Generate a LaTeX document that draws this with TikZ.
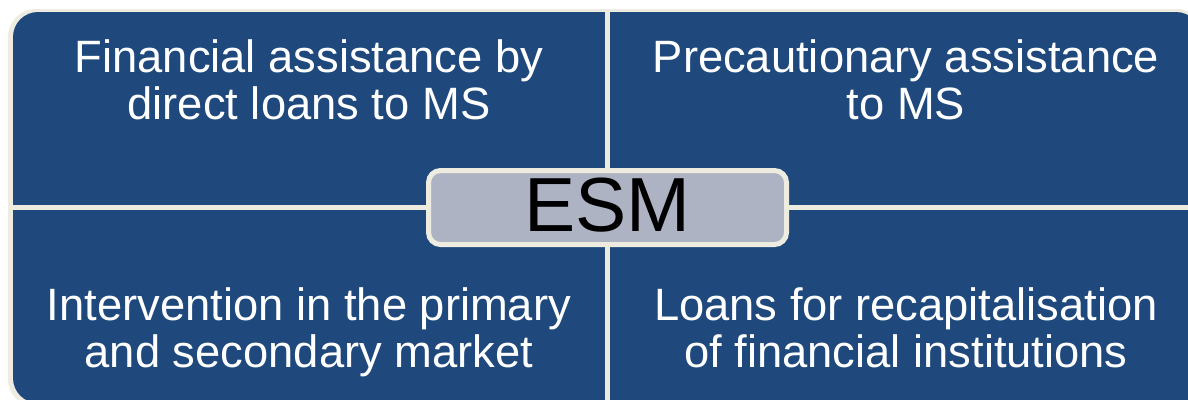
\documentclass[tikz,border=0pt]{standalone}
\usepackage{fontspec}
\setmainfont{Liberation Sans}
\usetikzlibrary{positioning}
\definecolor{esmblue}{RGB}{31,73,125}
\definecolor{esmcream}{RGB}{238,236,225}
\definecolor{esmgrey}{RGB}{173,179,194}
\tikzset{
  quadtext/.style={anchor=base, align=center, text=white, inner sep=0pt,
    font=\fontsize{45.5}{47}\selectfont},
  hubbox/.style={draw=esmcream, line width=5bp, fill=esmgrey, rounded corners=12bp,
    minimum width=358bp, minimum height=74bp, inner sep=0pt,
    text height=55bp, text depth=8bp, font=\fontsize{77}{80}\selectfont}
}
\begin{document}
\begin{tikzpicture}[x=1bp, y=-1bp]
\useasboundingbox (0,0) rectangle (1188,399);
\fill[white] (0,0) rectangle (1188,399);
% Frame and quadrants
\fill[esmcream, rounded corners=28bp] (8,9) rectangle (1205,407);
\fill[esmblue, rounded corners=25bp] (13,12) rectangle (1201,403);
\fill[esmcream] (605,12) rectangle (610,403);
\fill[esmcream] (13,205) rectangle (1201,210);
% Quadrant texts (base = last line)
\node[quadtext] (aid) at (309,119) {Financial assistance by\\direct loans to MS};
\node[quadtext] (precaution) at (906,119) {Precautionary assistance\\to MS};
\node[quadtext] (market) at (309,367) {Intervention in the primary\\and secondary market};
\node[quadtext] (recap) at (906,367) {Loans for recapitalisation\\of financial institutions};
% Centre
\node[hubbox] (esm) at (607.5,207.5) {ESM};
\end{tikzpicture}
\end{document}
